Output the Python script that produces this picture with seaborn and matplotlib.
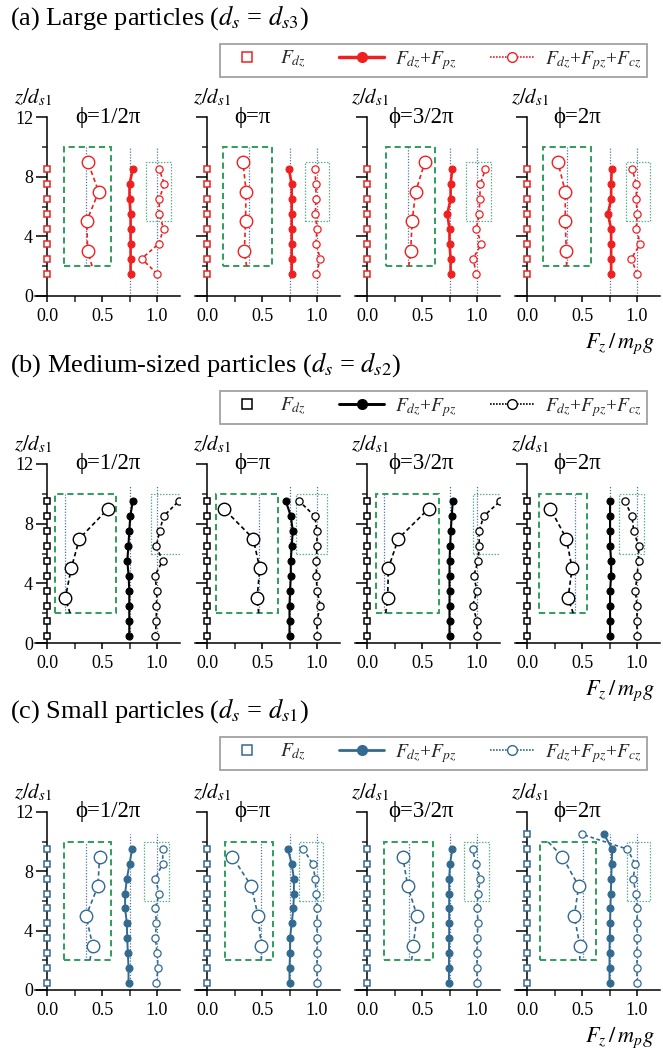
import matplotlib
matplotlib.use("Agg")
import matplotlib.pyplot as plt
from matplotlib.lines import Line2D
from matplotlib.patches import Rectangle
from matplotlib.ticker import FormatStrFormatter
from matplotlib.transforms import ScaledTranslation
import seaborn as sns

# ---------------------------------------------------------------- data
PHI_LABELS = ["ϕ=1/2π", "ϕ=π", "ϕ=3/2π", "ϕ=2π"]
ROW_TITLES = [r"(a) Large particles ($d_s$ = $d_{s3}$)",
              r"(b) Medium-sized particles ($d_s$ = $d_{s2}$)",
              r"(c) Small particles ($d_s$ = $d_{s1}$)"]

# heights z/d_s1 of the sampled layers
Z_A = [1.5, 2.5, 3.5, 4.5, 5.5, 6.5, 7.5, 8.5]
Z_B = [0.5, 1.5, 2.5, 3.5, 4.5, 5.5, 6.5, 7.5, 8.5, 9.5]
Z_C = [0.5, 1.5, 2.5, 3.5, 4.5, 5.5, 6.5, 7.5, 8.5, 9.5]
Z_C4 = [0.5, 1.5, 2.5, 3.5, 4.5, 5.5, 6.5, 7.5, 8.5, 9.5, 10.5]

# F_dz / m_p g
FDZ_A = [0, 0, 0, 0, 0, 0, 0, 0]
FDZ_B = [0, 0, 0, 0, 0, 0, 0, 0, 0, 0]
FDZ_C = [0, 0, 0, 0, 0, 0, 0, 0, 0, 0]
FDZ_C4 = [0, 0, 0, 0, 0, 0, 0, 0, 0, 0, 0]

# (F_dz + F_pz) / m_p g, one list per phase
FP_A = [[0.76, 0.76, 0.76, 0.76, 0.76, 0.75, 0.75, 0.78],
        [0.77, 0.77, 0.77, 0.77, 0.77, 0.77, 0.77, 0.745],
        [0.76, 0.76, 0.75, 0.75, 0.73, 0.76, 0.76, 0.775],
        [0.765, 0.765, 0.765, 0.765, 0.735, 0.765, 0.765, 0.77]]
FP_B = [[0.748, 0.748, 0.748, 0.748, 0.742, 0.73, 0.74, 0.748, 0.757, 0.78],
        [0.75, 0.75, 0.75, 0.755, 0.762, 0.762, 0.77, 0.78, 0.762, 0.717],
        [0.75, 0.75, 0.75, 0.75, 0.75, 0.75, 0.756, 0.762, 0.77, 0.78],
        [0.755, 0.755, 0.755, 0.755, 0.765, 0.765, 0.755, 0.755, 0.755, 0.755]]
FP_C = [[0.741, 0.741, 0.735, 0.729, 0.726, 0.71, 0.71, 0.726, 0.75, 0.774],
        [0.75, 0.75, 0.755, 0.755, 0.77, 0.785, 0.79, 0.79, 0.77, 0.735],
        [0.745, 0.745, 0.745, 0.747, 0.747, 0.747, 0.747, 0.747, 0.755, 0.775],
        [0.75, 0.75, 0.75, 0.752, 0.755, 0.758, 0.762, 0.766, 0.77, 0.775, 0.70]]

# (F_dz + F_pz + F_cz) / m_p g
FPC_A = [[1.0, 0.86, 1.015, 1.06, 1.02, 1.02, 1.067, 1.02],
         [0.994, 1.03, 0.99, 1.0, 0.985, 0.99, 0.99, 0.98],
         [0.994, 0.964, 1.04, 0.994, 1.02, 1.025, 1.03, 1.076],
         [1.0, 0.948, 1.03, 0.994, 1.0, 0.994, 0.994, 0.957]]
FPC_B = [[0.985, 0.994, 0.994, 1.0, 0.98, 1.05, 0.994, 1.024, 1.06, 1.196],
         [1.0, 1.0, 1.03, 1.0, 0.994, 0.994, 1.0, 1.0, 0.98, 0.84],
         [1.0, 1.0, 0.96, 1.0, 0.97, 1.01, 1.02, 1.02, 1.06, 1.21],
         [1.0, 1.0, 1.0, 0.985, 1.0, 1.015, 1.015, 0.97, 0.955, 0.89]]
FPC_C = [[0.994, 1.01, 1.0, 0.985, 0.994, 0.985, 1.02, 0.985, 1.05, 1.055],
         [1.0, 1.0, 1.0, 1.0, 1.0, 1.0, 0.99, 0.985, 0.96, 0.876],
         [1.0, 1.0, 1.0, 1.0, 1.01, 1.0, 1.01, 1.03, 0.99, 0.96],
         [1.0, 1.0, 1.0, 1.0, 1.0, 1.0, 0.99, 0.965, 0.985, 0.91, 0.5]]

# magnified view of the upper F_dz+F_pz+F_cz points (big dashed box)
INSET_Z = [3, 5, 7, 9]
INSET_A = [[0.37, 0.36, 0.47, 0.37],
           [0.34, 0.35, 0.355, 0.327],
           [0.397, 0.41, 0.443, 0.527],
           [0.357, 0.348, 0.348, 0.28]]
INSET_B = [[0.166, 0.22, 0.295, 0.555],
           [0.455, 0.48, 0.42, 0.152],
           [0.188, 0.194, 0.285, 0.56],
           [0.373, 0.41, 0.358, 0.212]]
INSET_C = [[0.415, 0.355, 0.463, 0.478],
           [0.494, 0.464, 0.403, 0.23],
           [0.42, 0.455, 0.37, 0.325],
           [0.48, 0.43, 0.47, 0.32]]
# where the magnified curve leaves the box (bottom edge z=2, top edge z=10)
TAIL_LO_A = [0.41, 0.36, 0.38, 0.36]
TAIL_LO_B = [0.21, 0.47, 0.17, 0.42]
TAIL_LO_C = [0.39, 0.494, 0.406, 0.48]
TAIL_HI_C = [None, None, None, 0.19]
# magnified position of the unit line inside the big box
INSET_REF_A = [0.35, 0.38, 0.373, 0.363]
INSET_REF_B = [0.16, 0.473, 0.158, 0.44]
INSET_REF_C = [0.357, 0.488, 0.385, 0.51]

REF_LEVELS = [0.75, 1.0]

# --------------------------------------------------------------- layout
W, H = 663, 1059
PPU = 110.0                       # pixels per unit of F_z/m_p g
XLIM = (-0.11, 1.21)
AXIS_X = [47, 207, 367, 527]      # pixel column of x = 0
ROW_TOP = [117, 464, 812]
ROW_BOT = [296, 643, 990]
TITLE_Y = [18, 365, 711]
LEGEND_TOP = [44, 391, 737]
PHI_X = [0.26, 0.25, 0.19, 0.24]
ZLABEL_DX = [-0.13, 0.045, 0.03, 0.03]

BIG_BOX = [[(0.15, 0.585), (0.145, 0.59), (0.176, 0.62), (0.145, 0.585)],
           [(0.075, 0.63), (0.079, 0.645), (0.082, 0.65), (0.106, 0.545)],
           [(0.157, 0.585), (0.167, 0.60), (0.158, 0.597), (0.12, 0.63)]]
SMALL_BOX = [[(0.90, 1.13), (0.89, 1.105), (0.90, 1.125), (0.90, 1.115)],
             [(0.948, 1.233), (0.806, 1.09), (0.96, 1.25), (0.833, 1.06)],
             [(0.885, 1.11), (0.833, 1.058), (0.885, 1.106), (0.91, 1.12)]]
SMALL_BOX_Z = [(5, 9), (6, 10), (6, 10)]
BIG_BOX_Z = (2, 10)
REF_TOP = [10, 10.5, 10.5]

ROW_COLOR = ["#f02020", "#000000", "#336a90"]
LINE_W = [1.9, 1.5, 1.4]
GUIDE_BLUE = "#4f76a6"
BOX_GREEN = "#2f9e5c"
BOX_GREEN_LIGHT = "#5cb487"

sns.set_theme(style="ticks")
plt.rcParams["font.family"] = ["Liberation Serif", "DejaVu Serif"]
plt.rcParams["mathtext.fontset"] = "stix"
plt.rcParams["axes.linewidth"] = 1.1

fig = plt.figure(figsize=(W / 100, H / 100), dpi=100)
fig.patch.set_facecolor("white")

rows = [
    (Z_A, FDZ_A, FP_A, FPC_A, INSET_A, TAIL_LO_A, [None] * 4, INSET_REF_A),
    (Z_B, FDZ_B, FP_B, FPC_B, INSET_B, TAIL_LO_B, [None] * 4, INSET_REF_B),
    (Z_C, FDZ_C, FP_C, FPC_C, INSET_C, TAIL_LO_C, TAIL_HI_C, INSET_REF_C),
]

for r, (z_row, fdz_row, fp_row, fpc_row, ins_row, tlo_row, thi_row, iref_row) in enumerate(rows):
    col = ROW_COLOR[r]
    for k in range(4):
        z = Z_C4 if (r == 2 and k == 3) else z_row
        fdz = FDZ_C4 if (r == 2 and k == 3) else fdz_row
        left = (AXIS_X[k] + XLIM[0] * PPU) / W
        ax = fig.add_axes([left, 1 - ROW_BOT[r] / H,
                           (XLIM[1] - XLIM[0]) * PPU / W,
                           (ROW_BOT[r] - ROW_TOP[r]) / H])
        ax.patch.set_alpha(0)
        ax.set_xlim(*XLIM)
        ax.set_ylim(0, 12)

        # axes frame: vertical axis sits at x = 0
        for s in ("top", "right"):
            ax.spines[s].set_visible(False)
        ax.spines["left"].set_position(("data", 0))
        ax.spines["left"].set_bounds(0, 12)
        ax.spines["left"].set_color("black")
        ax.spines["bottom"].set_color("black")
        ax.set_yticks([0, 4, 8, 12])
        ax.set_yticks([2, 6, 10], minor=True)
        ax.set_xticks([0.0, 0.5, 1.0])
        ax.set_xticks([0.25, 0.75], minor=True)
        ax.xaxis.set_major_formatter(FormatStrFormatter("%.1f"))
        ax.tick_params(axis="y", which="major", length=8, width=1.1, direction="out",
                       labelsize=13, pad=2, colors="black")
        ax.tick_params(axis="y", which="minor", length=3.8, width=1.1, direction="out")
        ax.tick_params(axis="x", which="major", length=4.5, width=1.1, direction="out",
                       labelsize=13, pad=4, colors="black")
        ax.tick_params(axis="x", which="minor", length=4.5, width=1.1, direction="out")
        if k > 0:
            ax.set_yticklabels([])

        # boxes around the upper points and their magnified view
        bx0, bx1 = BIG_BOX[r][k]
        ax.add_patch(Rectangle((bx0, BIG_BOX_Z[0]), bx1 - bx0, BIG_BOX_Z[1] - BIG_BOX_Z[0],
                               fill=False, ec=BOX_GREEN, lw=1.4, ls=(0, (3.2, 2.0)), zorder=1))
        sx0, sx1 = SMALL_BOX[r][k]
        sz0, sz1 = SMALL_BOX_Z[r]
        ax.add_patch(Rectangle((sx0, sz0), sx1 - sx0, sz1 - sz0,
                               fill=False, ec=BOX_GREEN_LIGHT, lw=0.9, ls=(0, (1.2, 1.2)), zorder=1))

        # guide lines
        ax.vlines(REF_LEVELS, 0, REF_TOP[r], colors=GUIDE_BLUE, lw=0.9,
                  linestyles=[(0, (1.0, 1.3))], zorder=1.5)
        ax.vlines([iref_row[k]], BIG_BOX_Z[0], BIG_BOX_Z[1], colors=GUIDE_BLUE, lw=0.9,
                  linestyles=[(0, (1.0, 1.3))], zorder=1.5)

        # F_dz
        sns.lineplot(x=fdz, y=z, orient="y", ax=ax, color=col, marker="s",
                     linestyle="none", markersize=5.0, markerfacecolor="white",
                     markeredgecolor=col, markeredgewidth=1.1, clip_on=False, zorder=6)
        # F_dz + F_pz
        sns.lineplot(x=fp_row[k], y=z, orient="y", ax=ax, color=col, marker="o",
                     linewidth=LINE_W[r], markersize=5.0, markerfacecolor=col,
                     markeredgecolor=col, markeredgewidth=0.8, zorder=4)
        # F_dz + F_pz + F_cz
        sns.lineplot(x=fpc_row[k], y=z, orient="y", ax=ax, color=col, marker="o",
                     linewidth=1.2, linestyle=(0, (2.2, 1.6)), markersize=5.2,
                     markerfacecolor="white", markeredgecolor=col, markeredgewidth=0.9,
                     zorder=4)

        # magnified curve
        ix = list(ins_row[k])
        iz = list(INSET_Z)
        lx = [tlo_row[k]] + ix
        lz = [BIG_BOX_Z[0]] + iz
        if thi_row[k] is not None:
            lx = lx + [thi_row[k]]
            lz = lz + [BIG_BOX_Z[1]]
        sns.lineplot(x=lx, y=lz, orient="y", ax=ax, color=col, linewidth=1.2,
                     linestyle=(0, (2.6, 1.8)), zorder=3)
        sns.lineplot(x=ix, y=iz, orient="y", ax=ax, color=col, marker="o",
                     linestyle="none", markersize=9.0, markerfacecolor="white",
                     markeredgecolor=col, markeredgewidth=1.0, zorder=5)
        ax.set_xlabel("")
        ax.set_ylabel("")

        # annotations
        ax.text(PHI_X[k], 12, PHI_LABELS[k], fontsize=16.5, ha="left", va="center",
                color="black", clip_on=False)
        ax.text(ZLABEL_DX[k], 12, r"$z/d_{s1}$", fontsize=15, ha="center",
                va="center", color="black", clip_on=False,
                transform=ax.transData + ScaledTranslation(0, 20 / 100, fig.dpi_scale_trans))

    # row heading, legend, axis title
    fig.text(10 / W, 1 - TITLE_Y[r] / H, ROW_TITLES[r], fontsize=19, ha="left",
             va="center", color="black")
    handles = [
        Line2D([], [], color=col, marker="s", linestyle="none", markersize=6.5,
               markerfacecolor="white", markeredgecolor=col, markeredgewidth=1.1),
        Line2D([], [], color=col, marker="o", linewidth=LINE_W[r] + 0.6, markersize=7,
               markerfacecolor=col, markeredgecolor=col),
        Line2D([], [], color=col, marker="o", linewidth=1.2, linestyle=(0, (1.0, 0.8)),
               markersize=7, markerfacecolor="white", markeredgecolor=col),
    ]
    labels = [r"$F_{dz}$", r"$F_{dz}$+$F_{pz}$", r"$F_{dz}$+$F_{pz}$+$F_{cz}$"]
    leg = fig.legend(handles, labels, loc="upper left",
                     bbox_to_anchor=(220 / W, 1 - LEGEND_TOP[r] / H), ncol=3,
                     frameon=True, fancybox=False, edgecolor="#8a8a8a", fontsize=14,
                     handlelength=2.3, handletextpad=0.55, columnspacing=1.7,
                     borderpad=0.25, borderaxespad=0)
    leg.get_frame().set_linewidth(1.3)
    fig.text(655 / W, 1 - (ROW_BOT[r] + 48) / H, r"$F_z\,/\,m_p g$", fontsize=16,
             ha="right", va="center", color="black")

fig.savefig("out.png", dpi=100, facecolor="white")
